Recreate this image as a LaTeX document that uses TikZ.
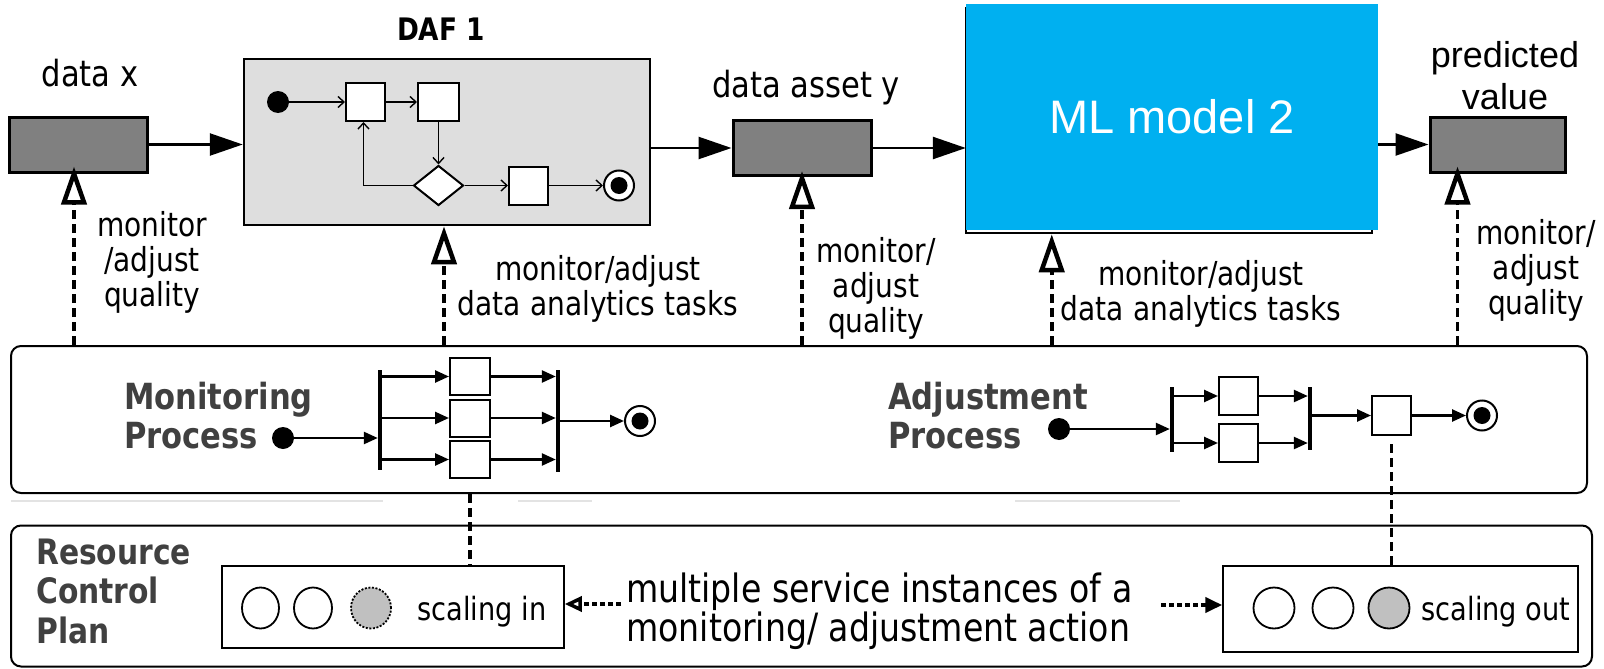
\documentclass[tikz,border=0pt]{standalone}
\usepackage{fontspec}
\setmainfont{DejaVu Sans}[FakeStretch=0.85]
\newfontfamily\arialf{Liberation Sans}
\usetikzlibrary{arrows.meta,shapes.geometric}

\definecolor{mlblue}{RGB}{0,176,240}
\definecolor{dafgray}{RGB}{222,222,222}
\definecolor{boxgray}{RGB}{128,128,128}
\definecolor{labelgray}{RGB}{64,64,64}
\definecolor{instgray}{RGB}{192,192,192}
\newcommand\setfs[2]{\fontsize{#1}{#2}\selectfont}

\tikzset{
  databox/.style={draw, line width=3pt, fill=boxgray, minimum width=138pt, minimum height=55pt, inner sep=0},
  actbox/.style={draw, line width=2pt, fill=white, minimum width=39pt, minimum height=38pt, inner sep=0},
  initdot/.style={circle, fill=black, minimum size=22pt, inner sep=0},
  finaldot/.style={circle, draw, line width=2pt, fill=white, minimum size=30pt, inner sep=0,
    path picture={\fill[black] (path picture bounding box.center) circle (8.5pt);}},
  syncbar/.style={fill=black, minimum width=4pt, inner sep=0},
  flow/.style={line width=2.5pt, -{Triangle[length=33pt,width=22pt]}},
  thinflow/.style={line width=1.4pt, -{Straight Barb[length=6pt,width=11pt]}},
  procflow/.style={line width=2.5pt, -{Triangle[length=14pt,width=12pt]}},
  monitor/.style={line width=3.5pt, dash pattern=on 9pt off 5pt,
    -{Triangle[fill=white, length=38pt, width=25pt, line width=4.5pt]}},
  link/.style={line width=3.5pt, dash pattern=on 9pt off 5pt},
  instline/.style={line width=4pt, dash pattern=on 5pt off 3pt},
  % multi-line labels are placed by the baseline of their last line
  lbl/.style={align=center, inner sep=0, anchor=base, font=\setfs{33}{35}},
  toplbl/.style={inner sep=0, anchor=base, font=\setfs{36}{40}},
  plane/.style={draw, line width=2pt, rounded corners=10pt, inner sep=0},
  proclbl/.style={align=left, inner sep=0, anchor=base west, text=labelgray, font=\bfseries\setfs{36}{39}},
  inst/.style={draw, line width=1.8pt, fill=white, inner sep=0},
}

\begin{document}
\begin{tikzpicture}[x=1pt, y=-1pt]
\useasboundingbox (0,0) rectangle (1604,669);
\fill[white] (0,0) rectangle (1604,669);

% ---------- data pipeline ----------
\node[databox] (datax) at (78,144.5) {};
\node[toplbl] (datax-l) at (90,86) {data x};

\node[draw, line width=2.5pt, fill=dafgray, minimum width=406pt, minimum height=166pt, inner sep=0] (daf) at (447,142) {};
\node[toplbl, font=\bfseries\setfs{31}{36}] (daf-l) at (441,41) {DAF 1};

\node[databox] (dasset) at (802,148) {};
\node[toplbl] (dasset-l) at (806,97) {data asset y};

\node[draw, line width=2.5pt, minimum width=406pt, minimum height=225pt, inner sep=0] (mlframe) at (1169,120.5) {};
\node[fill=mlblue, minimum width=412pt, minimum height=226pt, inner sep=0, text=white,
      font=\arialf\setfs{47}{52}] (ml) at (1172,117) {ML model 2};

\node[databox, minimum width=135pt] (pv) at (1497.5,144.5) {};
\node[toplbl, align=center, font=\arialf\setfs{36}{43}] (pv-l) at (1505,110) {predicted\\value};

\draw[flow] (datax.east) -- (datax.east -| daf.west);
\draw[flow] (daf.east |- dasset.west) -- (dasset.west);
\draw[flow] (dasset.east) -- (dasset.east -| ml.west);
\draw[flow] (ml.east |- pv.west) -- (pv.west);

% ---------- activity inside DAF 1 ----------
\node[initdot] (d0) at (278,102) {};
\node[actbox] (dA) at (365.5,102) {};
\node[actbox, minimum width=41pt] (dB) at (438.5,102) {};
\node[diamond, draw, line width=2pt, fill=white, minimum width=50pt, minimum height=40pt, inner sep=0, aspect=1.25] (dD) at (438.5,185.5) {};
\node[actbox] (dC) at (528.5,185.5) {};
\node[finaldot] (dE) at (619,185.5) {};
\draw[thinflow] (d0) -- (dA);
\draw[thinflow] (dA) -- (dB);
\draw[thinflow] (dB) -- (dD);
\draw[thinflow] (dD) -- (dC);
\draw[thinflow] (dC) -- (dE);
\draw[thinflow] (dD.west) -| ([xshift=-2pt]dA.south);

% ---------- monitoring / adjustment plane ----------
\node[plane, minimum width=1576pt, minimum height=147pt] (mon) at (799,419.5) {};
\draw[gray!22, line width=1.5pt] (11,501) -- (383,501) (518,501) -- (592,501) (1015,501) -- (1180,501);

% monitor/adjust connectors
\coordinate (t1) at ([xshift=-4pt, yshift=7pt]datax.south);
\coordinate (t2) at ([xshift=-3pt]daf.south);
\coordinate (t3) at ([yshift=6pt]dasset.south);
\coordinate (t4) at ([xshift=87pt]mlframe.south west);
\coordinate (t5) at ([xshift=29pt, yshift=7pt]pv.south west);
\draw[monitor] (t1 |- mon.north) -- (t1);
\draw[monitor] (t2 |- mon.north) -- (t2);
\draw[monitor] (t3 |- mon.north) -- (t3);
\draw[monitor] (t4 |- mon.north) -- (t4);
\draw[monitor] (t5 |- mon.north) -- (t5);

\node[lbl] (l1) at (152,306) {monitor\\/adjust\\quality};
\node[lbl] (l2) at (598,315) {monitor/adjust\\data analytics tasks};
\node[lbl] (l3) at (876,332) {monitor/\\adjust\\quality};
\node[lbl] (l4) at (1201,320) {monitor/adjust\\data analytics tasks};
\node[lbl] (l5) at (1536,314) {monitor/\\adjust\\quality};

% monitoring process
\node[proclbl] (mon-l) at (124,448) {Monitoring\\Process};
\node[initdot] (m0) at (283,438) {};
\node[syncbar, minimum height=100pt] (mfork) at (380,420) {};
\node[actbox, minimum width=40pt, minimum height=37pt] (mb1) at (470,376.5) {};
\node[actbox, minimum width=40pt, minimum height=37pt] (mb2) at (470,418) {};
\node[actbox, minimum width=40pt, minimum height=37pt] (mb3) at (470,459.5) {};
\node[syncbar, minimum height=102pt] (mjoin) at (558,421) {};
\node[finaldot] (mend) at (640,421) {};
\draw[procflow] (m0) -- (mfork.west |- m0);
\foreach \b in {mb1,mb2,mb3} {
  \draw[procflow] (mfork.east |- \b.west) -- (\b.west);
  \draw[procflow] (\b.east) -- (mjoin.west |- \b.east);
}
\draw[procflow] (mjoin.east |- mend) -- (mend);

% adjustment process
\node[proclbl] (adj-l) at (888,448) {Adjustment\\Process};
\node[initdot] (a0) at (1059,429) {};
\node[syncbar, minimum height=65pt] (afork) at (1172,419.5) {};
\node[actbox] (ab1) at (1238.5,396) {};
\node[actbox] (ab2) at (1238.5,443) {};
\node[syncbar, minimum height=63pt] (ajoin) at (1310,418.5) {};
\node[actbox, minimum height=39pt] (ab3) at (1391.5,415.5) {};
\node[finaldot] (aend) at (1482,415.5) {};
\draw[procflow] (a0) -- (afork.west |- a0);
\draw[procflow] (afork.east |- ab1.west) -- (ab1.west);
\draw[procflow] (afork.east |- ab2.west) -- (ab2.west);
\draw[procflow] (ab1.east) -- (ajoin.west |- ab1.east);
\draw[procflow] (ab2.east) -- (ajoin.west |- ab2.east);
\draw[procflow] (ajoin.east |- ab3.west) -- (ab3.west);
\draw[procflow] (ab3) -- (aend);

% ---------- resource control plan ----------
\node[plane, minimum width=1581pt, minimum height=141pt] (res) at (801.5,596) {};
\node[proclbl, font=\bfseries\setfs{35}{39.5}] (res-l) at (36,643) {Resource\\Control\\Plan};

\node[draw, line width=1.5pt, minimum width=342pt, minimum height=82pt, inner sep=0] (sin) at (393,607) {};
\node[inst, ellipse, minimum width=37pt, minimum height=41pt] (si1) at (260.5,608) {};
\node[inst, ellipse, minimum width=38pt, minimum height=41pt] (si2) at (313,608) {};
\node[inst, ellipse, minimum width=40pt, minimum height=41pt, fill=instgray, dash pattern=on 2pt off 1.6pt] (si3) at (371,608) {};
\node[toplbl, font=\setfs{32}{36}] (sin-l) at (482,620) {scaling in};

\node[draw, line width=1.5pt, minimum width=355pt, minimum height=86pt, inner sep=0] (sout) at (1400.5,609) {};
\node[inst, circle, minimum size=41pt] (so1) at (1274,608) {};
\node[inst, circle, minimum size=41pt] (so2) at (1333,608) {};
\node[inst, circle, minimum size=41pt, fill=instgray] (so3) at (1389,608) {};
\node[toplbl, font=\setfs{32}{36}] (sout-l) at (1496,620) {scaling out};

\node[inner sep=0, anchor=base west, align=left, font=\setfs{39}{37}] (inst-l) at (626,641)
  {multiple service instances of a\\monitoring/ adjustment action};
\coordinate (il) at (621,604);
\coordinate (ir) at (1161,605);
\draw[instline, -{Triangle[fill=white, length=17pt, width=15pt, line width=3.5pt]}] (il) -- (sin.east |- il);
\draw[instline, -{Triangle[length=17pt, width=15pt]}] (ir) -- (sout.west |- ir);

\draw[link] (mb3.south |- mon.south) -- (mb3.south |- sin.north);
\draw[link] ([yshift=-8pt]ab3.south) -- (ab3.south |- sout.north);
\end{tikzpicture}
\end{document}
